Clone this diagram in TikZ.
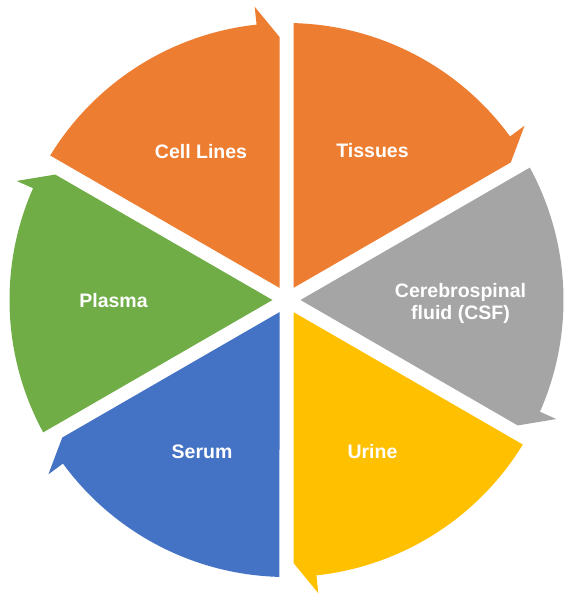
\documentclass[tikz,border=0pt]{standalone}
\usepackage{fontspec}
\setmainfont{Liberation Sans}
\usetikzlibrary{calc}
\definecolor{segorange}{HTML}{ED7D31}
\definecolor{seggray}{HTML}{A5A5A5}
\definecolor{segyellow}{HTML}{FFC000}
\definecolor{segblue}{HTML}{4472C4}
\definecolor{seggreen}{HTML}{70AD47}
\tikzset{
  lbl/.style={text=white, font=\fontsize{19.5}{22}\selectfont\bfseries, inner sep=0pt, align=center},
}
\newcommand\wedgeseg[3]{%
  \fill[#3] ($(C)+({(#1+#2)/2}:14)$) -- ($(C)+({#1-1.45}:277)$)
    arc[start angle={#1-1.45}, end angle={#2+6.2}, radius=277]
    -- ($(C)+({#2+6.2}:295)$) -- ($(C)+(#2:263)+({#2+90}:7)$) -- cycle;}
\begin{document}
\begin{tikzpicture}[x=1pt,y=1pt]
\useasboundingbox (0,0) rectangle (582,610);
\coordinate (C) at (286.5,310);
\wedgeseg{90}{30}{segorange}
\wedgeseg{30}{-30}{seggray}
\wedgeseg{-30}{-90}{segyellow}
\wedgeseg{-90}{-150}{segblue}
\wedgeseg{210}{150}{seggreen}
\wedgeseg{150}{90}{segorange}
\node[lbl, anchor=base] (cell) at (201,451.7) {Cell Lines};
\node[lbl, anchor=base] (tis) at (372.5,452) {Tissues};
\node[lbl] (csf) at (460.5,306.5) {Cerebrospinal\\fluid (CSF)};
\node[lbl, anchor=base] (uri) at (372.5,151.5) {Urine};
\node[lbl, anchor=base] (ser) at (202,151.5) {Serum};
\node[lbl, anchor=base] (pla) at (113.5,302.3) {Plasma};
\end{tikzpicture}
\end{document}
